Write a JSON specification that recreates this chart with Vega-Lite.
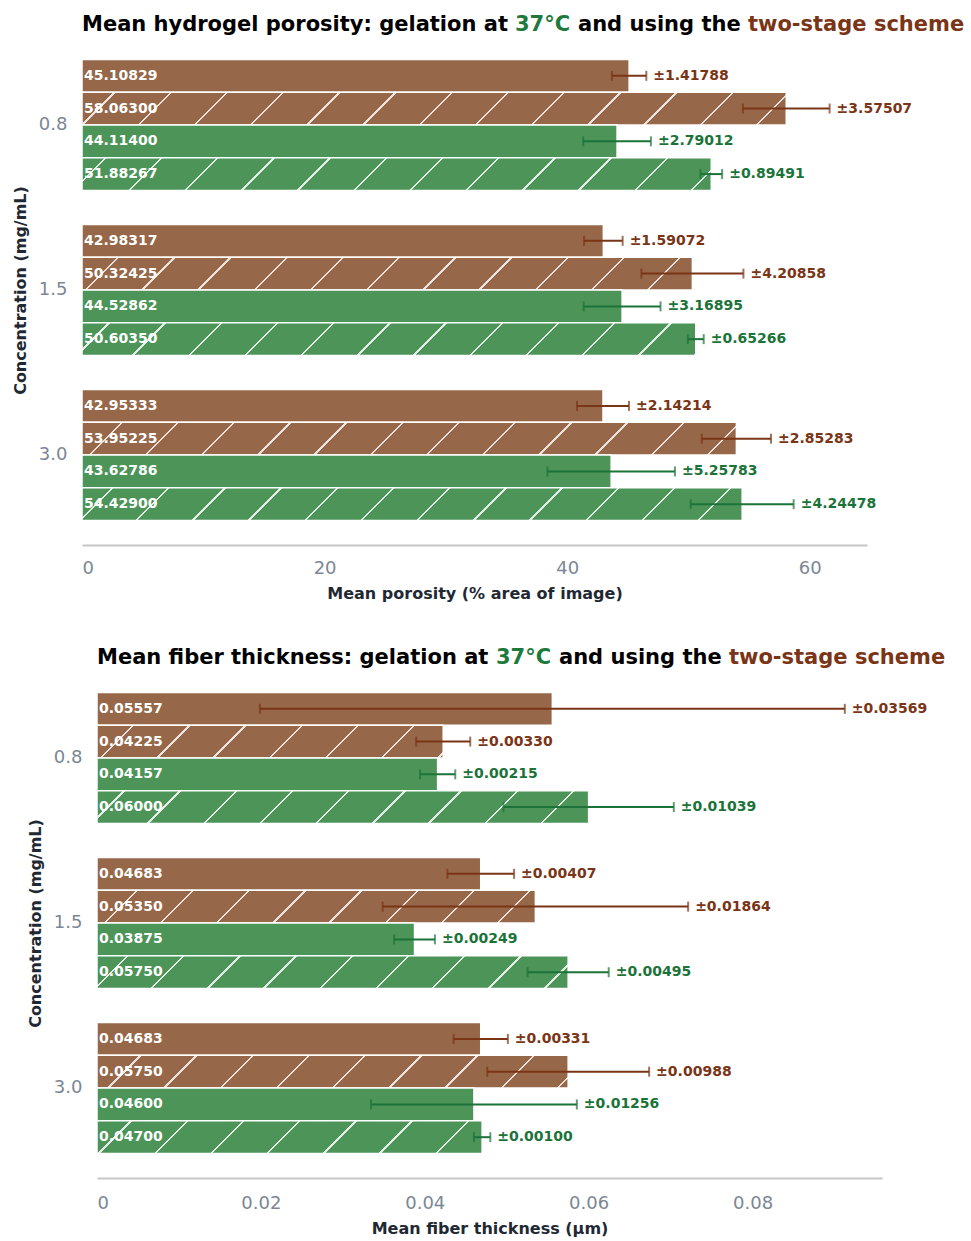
{
  "$schema": "https://vega.github.io/schema/vega-lite/v6.json",
  "background": "#ffffff",
  "padding": {"left": 11, "top": 14, "right": 0, "bottom": 0},
  "config": {
    "font": "DejaVu Sans",
    "view": {"stroke": null},
    "title": {"font": "DejaVu Sans", "fontSize": 21, "fontWeight": "bold", "anchor": "start", "frame": "group", "offset": -6, "baseline": "alphabetic", "color": "#000000"},
    "axis": {
      "labelFont": "DejaVu Sans", "labelFontSize": 18, "labelColor": "#7b8794",
      "titleFont": "DejaVu Sans", "titleFontSize": 16, "titleFontWeight": "bold", "titleColor": "#1f2933",
      "ticks": false, "grid": false
    },
    "axisX": {"domainColor": "#c6c6c6", "domainWidth": 2, "labelPadding": 14, "titlePadding": 8},
    "axisY": {"domain": false, "labelPadding": 15, "titlePadding": 10}
  },
  "params": [
    {"name": "hatchBrown", "value": [
      {"offset": 0, "color": "#966748"},
      {"offset": 0.055, "color": "#966748"}, {"offset": 0.055, "color": "#ede3dc"}, {"offset": 0.0574, "color": "#ede3dc"}, {"offset": 0.0574, "color": "#966748"},
      {"offset": 0.1112, "color": "#966748"}, {"offset": 0.1112, "color": "#ede3dc"}, {"offset": 0.1136, "color": "#ede3dc"}, {"offset": 0.1136, "color": "#966748"},
      {"offset": 0.1674, "color": "#966748"}, {"offset": 0.1674, "color": "#ede3dc"}, {"offset": 0.1698, "color": "#ede3dc"}, {"offset": 0.1698, "color": "#966748"},
      {"offset": 0.2236, "color": "#966748"}, {"offset": 0.2236, "color": "#ede3dc"}, {"offset": 0.226, "color": "#ede3dc"}, {"offset": 0.226, "color": "#966748"},
      {"offset": 0.2798, "color": "#966748"}, {"offset": 0.2798, "color": "#ede3dc"}, {"offset": 0.2822, "color": "#ede3dc"}, {"offset": 0.2822, "color": "#966748"},
      {"offset": 0.336, "color": "#966748"}, {"offset": 0.336, "color": "#ede3dc"}, {"offset": 0.3384, "color": "#ede3dc"}, {"offset": 0.3384, "color": "#966748"},
      {"offset": 0.3922, "color": "#966748"}, {"offset": 0.3922, "color": "#ede3dc"}, {"offset": 0.3946, "color": "#ede3dc"}, {"offset": 0.3946, "color": "#966748"},
      {"offset": 0.4484, "color": "#966748"}, {"offset": 0.4484, "color": "#ede3dc"}, {"offset": 0.4508, "color": "#ede3dc"}, {"offset": 0.4508, "color": "#966748"},
      {"offset": 0.5046, "color": "#966748"}, {"offset": 0.5046, "color": "#ede3dc"}, {"offset": 0.507, "color": "#ede3dc"}, {"offset": 0.507, "color": "#966748"},
      {"offset": 0.5608, "color": "#966748"}, {"offset": 0.5608, "color": "#ede3dc"}, {"offset": 0.5632, "color": "#ede3dc"}, {"offset": 0.5632, "color": "#966748"},
      {"offset": 0.617, "color": "#966748"}, {"offset": 0.617, "color": "#ede3dc"}, {"offset": 0.6194, "color": "#ede3dc"}, {"offset": 0.6194, "color": "#966748"},
      {"offset": 0.6732, "color": "#966748"}, {"offset": 0.6732, "color": "#ede3dc"}, {"offset": 0.6756, "color": "#ede3dc"}, {"offset": 0.6756, "color": "#966748"},
      {"offset": 0.7294, "color": "#966748"}, {"offset": 0.7294, "color": "#ede3dc"}, {"offset": 0.7318, "color": "#ede3dc"}, {"offset": 0.7318, "color": "#966748"},
      {"offset": 0.7856, "color": "#966748"}, {"offset": 0.7856, "color": "#ede3dc"}, {"offset": 0.788, "color": "#ede3dc"}, {"offset": 0.788, "color": "#966748"},
      {"offset": 1, "color": "#966748"}
    ]},
    {"name": "hatchGreen", "value": [
      {"offset": 0, "color": "#4c9458"},
      {"offset": 0.055, "color": "#4c9458"}, {"offset": 0.055, "color": "#e3efe6"}, {"offset": 0.0574, "color": "#e3efe6"}, {"offset": 0.0574, "color": "#4c9458"},
      {"offset": 0.1112, "color": "#4c9458"}, {"offset": 0.1112, "color": "#e3efe6"}, {"offset": 0.1136, "color": "#e3efe6"}, {"offset": 0.1136, "color": "#4c9458"},
      {"offset": 0.1674, "color": "#4c9458"}, {"offset": 0.1674, "color": "#e3efe6"}, {"offset": 0.1698, "color": "#e3efe6"}, {"offset": 0.1698, "color": "#4c9458"},
      {"offset": 0.2236, "color": "#4c9458"}, {"offset": 0.2236, "color": "#e3efe6"}, {"offset": 0.226, "color": "#e3efe6"}, {"offset": 0.226, "color": "#4c9458"},
      {"offset": 0.2798, "color": "#4c9458"}, {"offset": 0.2798, "color": "#e3efe6"}, {"offset": 0.2822, "color": "#e3efe6"}, {"offset": 0.2822, "color": "#4c9458"},
      {"offset": 0.336, "color": "#4c9458"}, {"offset": 0.336, "color": "#e3efe6"}, {"offset": 0.3384, "color": "#e3efe6"}, {"offset": 0.3384, "color": "#4c9458"},
      {"offset": 0.3922, "color": "#4c9458"}, {"offset": 0.3922, "color": "#e3efe6"}, {"offset": 0.3946, "color": "#e3efe6"}, {"offset": 0.3946, "color": "#4c9458"},
      {"offset": 0.4484, "color": "#4c9458"}, {"offset": 0.4484, "color": "#e3efe6"}, {"offset": 0.4508, "color": "#e3efe6"}, {"offset": 0.4508, "color": "#4c9458"},
      {"offset": 0.5046, "color": "#4c9458"}, {"offset": 0.5046, "color": "#e3efe6"}, {"offset": 0.507, "color": "#e3efe6"}, {"offset": 0.507, "color": "#4c9458"},
      {"offset": 0.5608, "color": "#4c9458"}, {"offset": 0.5608, "color": "#e3efe6"}, {"offset": 0.5632, "color": "#e3efe6"}, {"offset": 0.5632, "color": "#4c9458"},
      {"offset": 0.617, "color": "#4c9458"}, {"offset": 0.617, "color": "#e3efe6"}, {"offset": 0.6194, "color": "#e3efe6"}, {"offset": 0.6194, "color": "#4c9458"},
      {"offset": 0.6732, "color": "#4c9458"}, {"offset": 0.6732, "color": "#e3efe6"}, {"offset": 0.6756, "color": "#e3efe6"}, {"offset": 0.6756, "color": "#4c9458"},
      {"offset": 0.7294, "color": "#4c9458"}, {"offset": 0.7294, "color": "#e3efe6"}, {"offset": 0.7318, "color": "#e3efe6"}, {"offset": 0.7318, "color": "#4c9458"},
      {"offset": 0.7856, "color": "#4c9458"}, {"offset": 0.7856, "color": "#e3efe6"}, {"offset": 0.788, "color": "#e3efe6"}, {"offset": 0.788, "color": "#4c9458"},
      {"offset": 1, "color": "#4c9458"}
    ]}
  ],
  "datasets": {
    "porosity": [
      {"conc": "0.8", "scheme": "two-stage", "series": "two-stage A", "mean": 45.10829, "err": 1.41788},
      {"conc": "0.8", "scheme": "two-stage", "series": "two-stage B", "mean": 58.063, "err": 3.57507},
      {"conc": "0.8", "scheme": "37°C", "series": "37°C A", "mean": 44.114, "err": 2.79012},
      {"conc": "0.8", "scheme": "37°C", "series": "37°C B", "mean": 51.88267, "err": 0.89491},
      {"conc": "1.5", "scheme": "two-stage", "series": "two-stage A", "mean": 42.98317, "err": 1.59072},
      {"conc": "1.5", "scheme": "two-stage", "series": "two-stage B", "mean": 50.32425, "err": 4.20858},
      {"conc": "1.5", "scheme": "37°C", "series": "37°C A", "mean": 44.52862, "err": 3.16895},
      {"conc": "1.5", "scheme": "37°C", "series": "37°C B", "mean": 50.6035, "err": 0.65266},
      {"conc": "3.0", "scheme": "two-stage", "series": "two-stage A", "mean": 42.95333, "err": 2.14214},
      {"conc": "3.0", "scheme": "two-stage", "series": "two-stage B", "mean": 53.95225, "err": 2.85283},
      {"conc": "3.0", "scheme": "37°C", "series": "37°C A", "mean": 43.62786, "err": 5.25783},
      {"conc": "3.0", "scheme": "37°C", "series": "37°C B", "mean": 54.429, "err": 4.24478}
    ],
    "fiber": [
      {"conc": "0.8", "scheme": "two-stage", "series": "two-stage A", "mean": 0.05557, "err": 0.03569},
      {"conc": "0.8", "scheme": "two-stage", "series": "two-stage B", "mean": 0.04225, "err": 0.0033},
      {"conc": "0.8", "scheme": "37°C", "series": "37°C A", "mean": 0.04157, "err": 0.00215},
      {"conc": "0.8", "scheme": "37°C", "series": "37°C B", "mean": 0.06, "err": 0.01039},
      {"conc": "1.5", "scheme": "two-stage", "series": "two-stage A", "mean": 0.04683, "err": 0.00407},
      {"conc": "1.5", "scheme": "two-stage", "series": "two-stage B", "mean": 0.0535, "err": 0.01864},
      {"conc": "1.5", "scheme": "37°C", "series": "37°C A", "mean": 0.03875, "err": 0.00249},
      {"conc": "1.5", "scheme": "37°C", "series": "37°C B", "mean": 0.0575, "err": 0.00495},
      {"conc": "3.0", "scheme": "two-stage", "series": "two-stage A", "mean": 0.04683, "err": 0.00331},
      {"conc": "3.0", "scheme": "two-stage", "series": "two-stage B", "mean": 0.0575, "err": 0.00988},
      {"conc": "3.0", "scheme": "37°C", "series": "37°C A", "mean": 0.046, "err": 0.01256},
      {"conc": "3.0", "scheme": "37°C", "series": "37°C B", "mean": 0.047, "err": 0.001}
    ]
  },
  "spacing": 46,
  "vconcat": [
    {
      "spacing": 0,
      "hconcat": [
        {"width": 1, "height": 1, "data": {"values": []}, "mark": "text", "encoding": {}},
        {
          "spacing": 0,
          "vconcat": [
            {
              "spacing": 7,
              "hconcat": [
                {"width": 1, "height": 1, "data": {"values": []}, "mark": "text", "encoding": {}, "title": {"text": "Mean hydrogel porosity: gelation at"}},
                {"width": 1, "height": 1, "data": {"values": []}, "mark": "text", "encoding": {}, "title": {"text": "37°C", "color": "#1e7a3c"}},
                {"width": 1, "height": 1, "data": {"values": []}, "mark": "text", "encoding": {}, "title": {"text": "and using the"}},
                {"width": 1, "height": 1, "data": {"values": []}, "mark": "text", "encoding": {}, "title": {"text": "two-stage scheme", "color": "#7a3416"}}
              ]
            },
            {
              "width": 785,
              "height": 510,
              "data": {"name": "porosity"},
              "transform": [
                {"calculate": "datum.mean - datum.err", "as": "lo"},
                {"calculate": "datum.mean + datum.err", "as": "hi"},
                {"calculate": "'±' + format(datum.err, '.5f')", "as": "errLabel"}
              ],
              "encoding": {
                "y": {"field": "conc", "type": "nominal", "sort": ["0.8", "1.5", "3.0"], "scale": {"paddingInner": 0.206, "paddingOuter": 0.148}, "axis": {"title": "Concentration (mg/mL)"}},
                "yOffset": {"field": "series", "type": "nominal", "sort": ["two-stage A", "two-stage B", "37°C A", "37°C B"], "scale": {"paddingInner": 0, "paddingOuter": 0}}
              },
              "layer": [
                {
                  "mark": {"type": "bar", "stroke": "#ffffff", "strokeWidth": 1.5},
                  "encoding": {
                    "x": {"field": "mean", "type": "quantitative", "title": "Mean porosity (% area of image)", "scale": {"domain": [0, 64.72], "nice": false, "zero": true}, "axis": {"values": [0, 20, 40, 60], "format": "~g"}},
                    "fill": {
                      "field": "scheme", "type": "nominal", "legend": null,
                      "scale": {"domain": ["two-stage", "37°C"], "range": ["#966748", "#4c9458"]},
                      "condition": [
                        {"test": "datum.conc === '0.8' && datum.series === 'two-stage B'", "value": {"expr": "{gradient: 'linear', x1: -0.032999, y1: -0.001535, x2: 1.383865, y2: 0.064373, stops: hatchBrown}"}},
                        {"test": "datum.conc === '0.8' && datum.series === '37°C B'", "value": {"expr": "{gradient: 'linear', x1: -0.05168, y1: -0.00269, x2: 1.533118, y2: 0.079812, stops: hatchGreen}"}},
                        {"test": "datum.conc === '1.5' && datum.series === 'two-stage B'", "value": {"expr": "{gradient: 'linear', x1: -0.032247, y1: -0.001731, x2: 1.601344, y2: 0.085945, stops: hatchBrown}"}},
                        {"test": "datum.conc === '1.5' && datum.series === '37°C B'", "value": {"expr": "{gradient: 'linear', x1: -0.047211, y1: -0.00252, x2: 1.577409, y2: 0.084193, stops: hatchGreen}"}},
                        {"test": "datum.conc === '3.0' && datum.series === 'two-stage B'", "value": {"expr": "{gradient: 'linear', x1: -0.024678, y1: -0.001235, x2: 1.499619, y2: 0.075073, stops: hatchBrown}"}},
                        {"test": "datum.conc === '3.0' && datum.series === '37°C B'", "value": {"expr": "{gradient: 'linear', x1: -0.038546, y1: -0.001913, x2: 1.472471, y2: 0.073068, stops: hatchGreen}"}}
                      ]
                    }
                  }
                },
                {
                  "mark": {"type": "rule", "strokeWidth": 2},
                  "encoding": {
                    "x": {"field": "lo", "type": "quantitative", "title": "Mean porosity (% area of image)"},
                    "x2": {"field": "hi"},
                    "color": {"field": "scheme", "type": "nominal", "legend": null, "scale": {"domain": ["two-stage", "37°C"], "range": ["#7a3416", "#1b7339"]}}
                  }
                },
                {
                  "mark": {"type": "tick", "thickness": 2, "size": 10},
                  "encoding": {
                    "x": {"field": "lo", "type": "quantitative", "title": "Mean porosity (% area of image)"},
                    "color": {"field": "scheme", "type": "nominal", "legend": null}
                  }
                },
                {
                  "mark": {"type": "tick", "thickness": 2, "size": 10},
                  "encoding": {
                    "x": {"field": "hi", "type": "quantitative", "title": "Mean porosity (% area of image)"},
                    "color": {"field": "scheme", "type": "nominal", "legend": null}
                  }
                },
                {
                  "mark": {"type": "text", "align": "left", "baseline": "middle", "dx": 2, "fontSize": 14, "fontWeight": "bold", "color": "#ffffff"},
                  "encoding": {
                    "x": {"datum": 0, "type": "quantitative"},
                    "text": {"field": "mean", "type": "quantitative", "format": ".5f"}
                  }
                },
                {
                  "mark": {"type": "text", "align": "left", "baseline": "middle", "dx": 7, "fontSize": 14, "fontWeight": "bold"},
                  "encoding": {
                    "x": {"field": "hi", "type": "quantitative", "title": "Mean porosity (% area of image)"},
                    "text": {"field": "errLabel", "type": "nominal"},
                    "color": {"field": "scheme", "type": "nominal", "legend": null}
                  }
                }
              ]
            }
          ]
        }
      ]
    },
    {
      "spacing": 15,
      "hconcat": [
        {"width": 1, "height": 1, "data": {"values": []}, "mark": "text", "encoding": {}},
        {
          "spacing": 0,
          "vconcat": [
            {
              "spacing": 7,
              "hconcat": [
                {"width": 1, "height": 1, "data": {"values": []}, "mark": "text", "encoding": {}, "title": {"text": "Mean fiber thickness: gelation at"}},
                {"width": 1, "height": 1, "data": {"values": []}, "mark": "text", "encoding": {}, "title": {"text": "37°C", "color": "#1e7a3c"}},
                {"width": 1, "height": 1, "data": {"values": []}, "mark": "text", "encoding": {}, "title": {"text": "and using the"}},
                {"width": 1, "height": 1, "data": {"values": []}, "mark": "text", "encoding": {}, "title": {"text": "two-stage scheme", "color": "#7a3416"}}
              ]
            },
            {
              "width": 785,
              "height": 510,
              "data": {"name": "fiber"},
              "transform": [
                {"calculate": "datum.mean - datum.err", "as": "lo"},
                {"calculate": "datum.mean + datum.err", "as": "hi"},
                {"calculate": "'±' + format(datum.err, '.5f')", "as": "errLabel"}
              ],
              "encoding": {
                "y": {"field": "conc", "type": "nominal", "sort": ["0.8", "1.5", "3.0"], "scale": {"paddingInner": 0.206, "paddingOuter": 0.148}, "axis": {"title": "Concentration (mg/mL)"}},
                "yOffset": {"field": "series", "type": "nominal", "sort": ["two-stage A", "two-stage B", "37°C A", "37°C B"], "scale": {"paddingInner": 0, "paddingOuter": 0}}
              },
              "layer": [
                {
                  "mark": {"type": "bar", "stroke": "#ffffff", "strokeWidth": 1.5},
                  "encoding": {
                    "x": {"field": "mean", "type": "quantitative", "title": "Mean fiber thickness (µm)", "scale": {"domain": [0, 0.0958], "nice": false, "zero": true}, "axis": {"values": [0, 0.02, 0.04, 0.06, 0.08], "format": "~g", "labelPadding": 16, "titlePadding": 8.5}},
                    "fill": {
                      "field": "scheme", "type": "nominal", "legend": null,
                      "scale": {"domain": ["two-stage", "37°C"], "range": ["#966748", "#4c9458"]},
                      "condition": [
                        {"test": "datum.conc === '0.8' && datum.series === 'two-stage B'", "value": {"expr": "{gradient: 'linear', x1: -0.05637, y1: -0.005334, x2: 2.8065, y2: 0.265571, stops: hatchBrown}"}},
                        {"test": "datum.conc === '0.8' && datum.series === '37°C B'", "value": {"expr": "{gradient: 'linear', x1: -0.058745, y1: -0.003914, x2: 1.966232, y2: 0.131016, stops: hatchGreen}"}},
                        {"test": "datum.conc === '1.5' && datum.series === 'two-stage B'", "value": {"expr": "{gradient: 'linear', x1: -0.036612, y1: -0.002736, x2: 2.231794, y2: 0.166777, stops: hatchBrown}"}},
                        {"test": "datum.conc === '1.5' && datum.series === '37°C B'", "value": {"expr": "{gradient: 'linear', x1: -0.053777, y1: -0.003739, x2: 2.058433, y2: 0.143124, stops: hatchGreen}"}},
                        {"test": "datum.conc === '3.0' && datum.series === 'two-stage B'", "value": {"expr": "{gradient: 'linear', x1: -0.026593, y1: -0.001849, x2: 2.085617, y2: 0.145014, stops: hatchBrown}"}},
                        {"test": "datum.conc === '3.0' && datum.series === '37°C B'", "value": {"expr": "{gradient: 'linear', x1: -0.056481, y1: -0.004804, x2: 2.521393, y2: 0.214476, stops: hatchGreen}"}}
                      ]
                    }
                  }
                },
                {
                  "mark": {"type": "rule", "strokeWidth": 2},
                  "encoding": {
                    "x": {"field": "lo", "type": "quantitative", "title": "Mean fiber thickness (µm)"},
                    "x2": {"field": "hi"},
                    "color": {"field": "scheme", "type": "nominal", "legend": null, "scale": {"domain": ["two-stage", "37°C"], "range": ["#7a3416", "#1b7339"]}}
                  }
                },
                {
                  "mark": {"type": "tick", "thickness": 2, "size": 10},
                  "encoding": {
                    "x": {"field": "lo", "type": "quantitative", "title": "Mean fiber thickness (µm)"},
                    "color": {"field": "scheme", "type": "nominal", "legend": null}
                  }
                },
                {
                  "mark": {"type": "tick", "thickness": 2, "size": 10},
                  "encoding": {
                    "x": {"field": "hi", "type": "quantitative", "title": "Mean fiber thickness (µm)"},
                    "color": {"field": "scheme", "type": "nominal", "legend": null}
                  }
                },
                {
                  "mark": {"type": "text", "align": "left", "baseline": "middle", "dx": 2, "fontSize": 14, "fontWeight": "bold", "color": "#ffffff"},
                  "encoding": {
                    "x": {"datum": 0, "type": "quantitative"},
                    "text": {"field": "mean", "type": "quantitative", "format": ".5f"}
                  }
                },
                {
                  "mark": {"type": "text", "align": "left", "baseline": "middle", "dx": 7, "fontSize": 14, "fontWeight": "bold"},
                  "encoding": {
                    "x": {"field": "hi", "type": "quantitative", "title": "Mean fiber thickness (µm)"},
                    "text": {"field": "errLabel", "type": "nominal"},
                    "color": {"field": "scheme", "type": "nominal", "legend": null}
                  }
                }
              ]
            }
          ]
        }
      ]
    }
  ]
}
